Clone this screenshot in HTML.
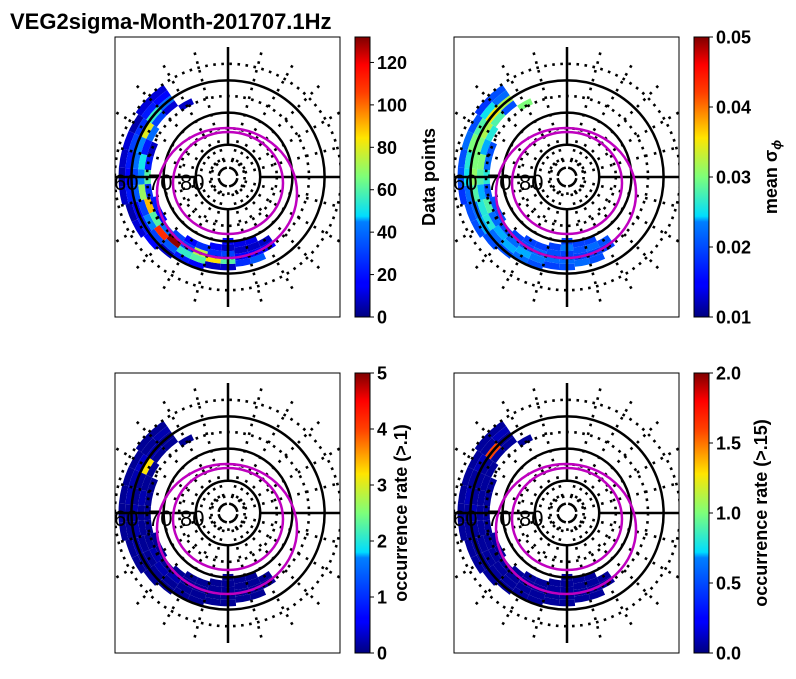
<!DOCTYPE html>
<html><head><meta charset="utf-8"><style>
body{margin:0;background:#fff;width:796px;height:674px;overflow:hidden;font-family:"Liberation Sans",sans-serif}
svg text{font-family:"Liberation Sans","DejaVu Sans",sans-serif}
</style></head><body>
<svg id="chart" width="796" height="674" viewBox="0 0 796 674">
<defs>
<linearGradient id="jet" x1="0" y1="1" x2="0" y2="0">
<stop offset="0" stop-color="#00007f"/><stop offset="0.11" stop-color="#0000ff"/><stop offset="0.125" stop-color="#0000ff"/>
<stop offset="0.34" stop-color="#0080ff"/><stop offset="0.36" stop-color="#00ddff"/><stop offset="0.5" stop-color="#7dff7a"/>
<stop offset="0.64" stop-color="#ffe500"/><stop offset="0.8" stop-color="#ff4000"/><stop offset="0.9" stop-color="#ff0000"/><stop offset="1" stop-color="#7f0000"/>
</linearGradient>
</defs>
<text x="10" y="29" font-size="22" font-weight="bold">VEG2sigma-Month-201707.1Hz</text>
<g id="panels"></g>
</svg>
<script>
// data: sectors (screen angle deg), starting colatitude, per-panel cell values (rows inward, 2 deg each)
const sectorPhi = [120,130,140,150,160,170,180,190,200,210,220,230,240,250,260,270,280,290,300];
const sectorColat0 = [27,35,35,34,34,34,34,34,33,33,32,31,30,30,29,29,28,28,26];
const countValues = [[8],[10,15,40,10],[10,20,55,30],[5,25,80,40],[10,30,45,20,8],[8,20,40,50,20],[5,15,30,45,60],[8,20,35,70,25],[5,15,30,90,20],[10,20,45,60,15],[15,30,110,40],[8,35,130,30],[20,55,30,15],[15,60,75,25],[8,85,25,15],[8,60,30,8,15],[25,15,8,12],[35,15,8,12],[15,8]];
const sigmaValues = [[0.03],[0.02,0.022,0.032,0.02],[0.018,0.025,0.035,0.028],[0.02,0.028,0.032,0.026],[0.022,0.03,0.03,0.024,0.02],[0.02,0.026,0.03,0.03,0.022],[0.02,0.025,0.031,0.028,0.026],[0.018,0.022,0.028,0.024,0.02],[0.02,0.022,0.026,0.028,0.02],[0.02,0.024,0.026,0.022,0.02],[0.02,0.022,0.024,0.02],[0.02,0.024,0.022,0.019],[0.022,0.024,0.02,0.019],[0.02,0.023,0.022,0.019],[0.019,0.022,0.02,0.019],[0.02,0.022,0.019,0.023,0.019],[0.022,0.019,0.02,0.019],[0.02,0.019,0.022,0.019],[0.019,0.02]];
const occ1Values = [[0.1],[0.1,0.2,0.1,0.1],[0.1,0.1,0.2,0.1],[0.1,0.3,3.2,0.1],[0.1,0.2,0.1,0.1,0.1],[0.1,0.2,0.1,0.2,0.1],[0.1,0.1,0.2,0.1,0.1],[0.1,0.1,0.2,0.1,0.1],[0.1,0.2,0.1,0.1,0.1],[0.1,0.1,0.1,0.2,0.1],[0.1,0.1,0.2,0.1],[0.1,0.1,0.2,0.1],[0.1,0.1,0.1,0.1],[0.1,0.1,0.1,0.1],[0.1,0.1,0.1,0.1],[0.1,0.1,0.1,0.1,0.1],[0.1,0.1,0.1,0.1],[0.1,0.1,0.1,0.1],[0.1,0.1]];
const occ2Values = [[0.05],[0.05,0.1,0.05,0.05],[0.05,0.05,1.6,0.05],[0.05,0.1,0.05,0.05],[0.05,0.05,0.05,0.05,0.05],[0.05,0.1,0.05,0.05,0.05],[0.05,0.05,0.1,0.05,0.05],[0.05,0.05,0.05,0.05,0.05],[0.05,0.05,0.05,0.05,0.05],[0.05,0.05,0.05,0.05,0.05],[0.05,0.05,0.05,0.05],[0.05,0.05,0.05,0.05],[0.05,0.05,0.05,0.05],[0.05,0.05,0.05,0.05],[0.05,0.05,0.05,0.05],[0.05,0.05,0.05,0.05,0.05],[0.05,0.05,0.05,0.05],[0.05,0.05,0.05,0.05],[0.05,0.05]];
const cb1Ticks = [0,20,40,60,80,100,120];
const cb2Ticks = [0.01,0.02,0.03,0.04,0.05];
const cb3Ticks = [0,1,2,3,4,5];
const cb4Ticks = [0.0,0.5,1.0,1.5,2.0];

const NS='http://www.w3.org/2000/svg';
const root=document.getElementById('panels');
const PX=3.22; // px per degree colat
function mk(t,a,p){const e=document.createElementNS(NS,t);for(const k in a)e.setAttribute(k,a[k]);(p||root).appendChild(e);return e;}
function jet(v){
  const stops=[[0,[0,0,127]],[0.11,[0,0,255]],[0.34,[0,128,255]],[0.36,[0,221,255]],[0.5,[125,255,122]],[0.64,[255,229,0]],[0.8,[255,64,0]],[0.9,[255,0,0]],[1,[127,0,0]]];
  v=Math.max(0,Math.min(1,v));
  for(let i=1;i<stops.length;i++){if(v<=stops[i][0]){const a=stops[i-1],b=stops[i],t=(v-a[0])/(b[0]-a[0]);
    return 'rgb('+a[1].map((c,j)=>Math.round(c+(b[1][j]-c)*t)).join(',')+')';}}
  return 'rgb(127,0,0)';
}
function fmt(v,dec){return v.toFixed(dec);}
const panels=[
 {x:115,y:37,vals:countValues,vmin:0,vmax:132,ticks:cb1Ticks,dec:0,label:'Data points',lx:435,name:'data-points'},
 {x:454,y:37,vals:sigmaValues,vmin:0.01,vmax:0.05,ticks:cb2Ticks,dec:2,label:'mean σ',sub:'ϕ',lx:777,name:'mean-sigma'},
 {x:115,y:373,vals:occ1Values,vmin:0,vmax:5,ticks:cb3Ticks,dec:0,label:'occurrence rate (>.1)',lx:407,name:'occurrence-01'},
 {x:454,y:373,vals:occ2Values,vmin:0,vmax:2,ticks:cb4Ticks,dec:1,label:'occurrence rate (>.15)',lx:767,name:'occurrence-015'}
];
panels.forEach((P,pi)=>{
  const W=225,H=280,cx=P.x+113,cy=P.y+140;
  const g=mk('g',{});
  
  
  const cid='clip'+pi;
  const cp=mk('clipPath',{id:cid},g);mk('rect',{x:P.x,y:P.y,width:W,height:H},cp);
  const inner=mk('g',{'clip-path':'url(#'+cid+')'},g);
  sectorPhi.forEach((phi,si)=>{
    P.vals[si].forEach((v,ri)=>{
      const c1=sectorColat0[si]-ri*2,c2=c1-2;
      const r1=c1*PX,r2=c2*PX,a1=(phi-5)*Math.PI/180,a2=(phi+5)*Math.PI/180;
      const pt=(r,a)=>(cx+r*Math.cos(a)).toFixed(1)+','+(cy-r*Math.sin(a)).toFixed(1);
      const d='M'+pt(r1,a1)+' A'+r1+','+r1+' 0 0 0 '+pt(r1,a2)+' L'+pt(r2,a2)+' A'+r2+','+r2+' 0 0 1 '+pt(r2,a1)+'Z';
      const e=mk('path',{d:d,fill:jet((v-P.vmin)/(P.vmax-P.vmin)),stroke:'none'},inner);
      
      
    });
  });
  [5,15,25,35].forEach(c=>mk('circle',{cx:cx,cy:cy,r:c*PX+0.5,fill:'none',stroke:'#000','stroke-width':2.6,'stroke-dasharray':'2.6 5.5'},inner));
  for(let a=0;a<360;a+=15){if(a%90===0)continue;const t=a*Math.PI/180;
    mk('line',{x1:cx+8*Math.cos(t),y1:cy-8*Math.sin(t),x2:cx+130*Math.cos(t),y2:cy-130*Math.sin(t),stroke:'#000','stroke-width':2.6,'stroke-dasharray':'2.6 6.5'},inner);}
  [10,20,30].forEach(c=>mk('circle',{cx:cx,cy:cy,r:c*PX,fill:'none',stroke:'#000','stroke-width':2.5},inner));
  [0,90,180,270].forEach(a=>{const t=a*Math.PI/180;mk('line',{x1:cx+33*Math.cos(t),y1:cy-33*Math.sin(t),x2:cx+130*Math.cos(t),y2:cy-130*Math.sin(t),stroke:'#000','stroke-width':2.5},inner);});
  mk('ellipse',{cx:cx-1,cy:cy+16,rx:70,ry:65,fill:'none',stroke:'#bf00bf','stroke-width':2.5},inner);
  mk('ellipse',{cx:cx,cy:cy+6,rx:55,ry:51,fill:'none',stroke:'#bf00bf','stroke-width':2.5},inner);
  [['60',cx-114],['70',cx-80],['80',cx-48]].forEach(l=>{const t=mk('text',{x:l[1],y:cy+13,'font-size':22},inner);t.textContent=l[0];});
  mk('rect',{x:P.x,y:P.y,width:W,height:H,fill:'none',stroke:'#000','stroke-width':1},g);
  const bx=P.x+240,bw=15;
  const cb=mk('g',{});
  
  
  mk('rect',{x:bx,y:P.y,width:bw,height:H,fill:'url(#jet)',stroke:'#000','stroke-width':1},cb);
  P.ticks.forEach(tv=>{const yy=P.y+H-(tv-P.vmin)/(P.vmax-P.vmin)*H;
    mk('line',{x1:bx+bw,y1:yy,x2:bx+bw+4,y2:yy,stroke:'#000','stroke-width':1},cb);
    const t=mk('text',{x:bx+bw+7,y:yy+6.5,'font-size':18,'font-weight':'bold'},cb);t.textContent=fmt(tv,P.dec);});
  const lt=mk('text',{x:P.lx,y:P.y+H/2,'font-size':18,'font-weight':'bold','text-anchor':'middle',transform:'rotate(-90 '+P.lx+' '+(P.y+H/2)+')'},cb);
  lt.textContent=P.label;
  if(P.sub){const s=mk('tspan',{'font-size':13,dy:4,'font-style':'italic'},lt);s.textContent=P.sub;}
});
</script>
</body></html>
